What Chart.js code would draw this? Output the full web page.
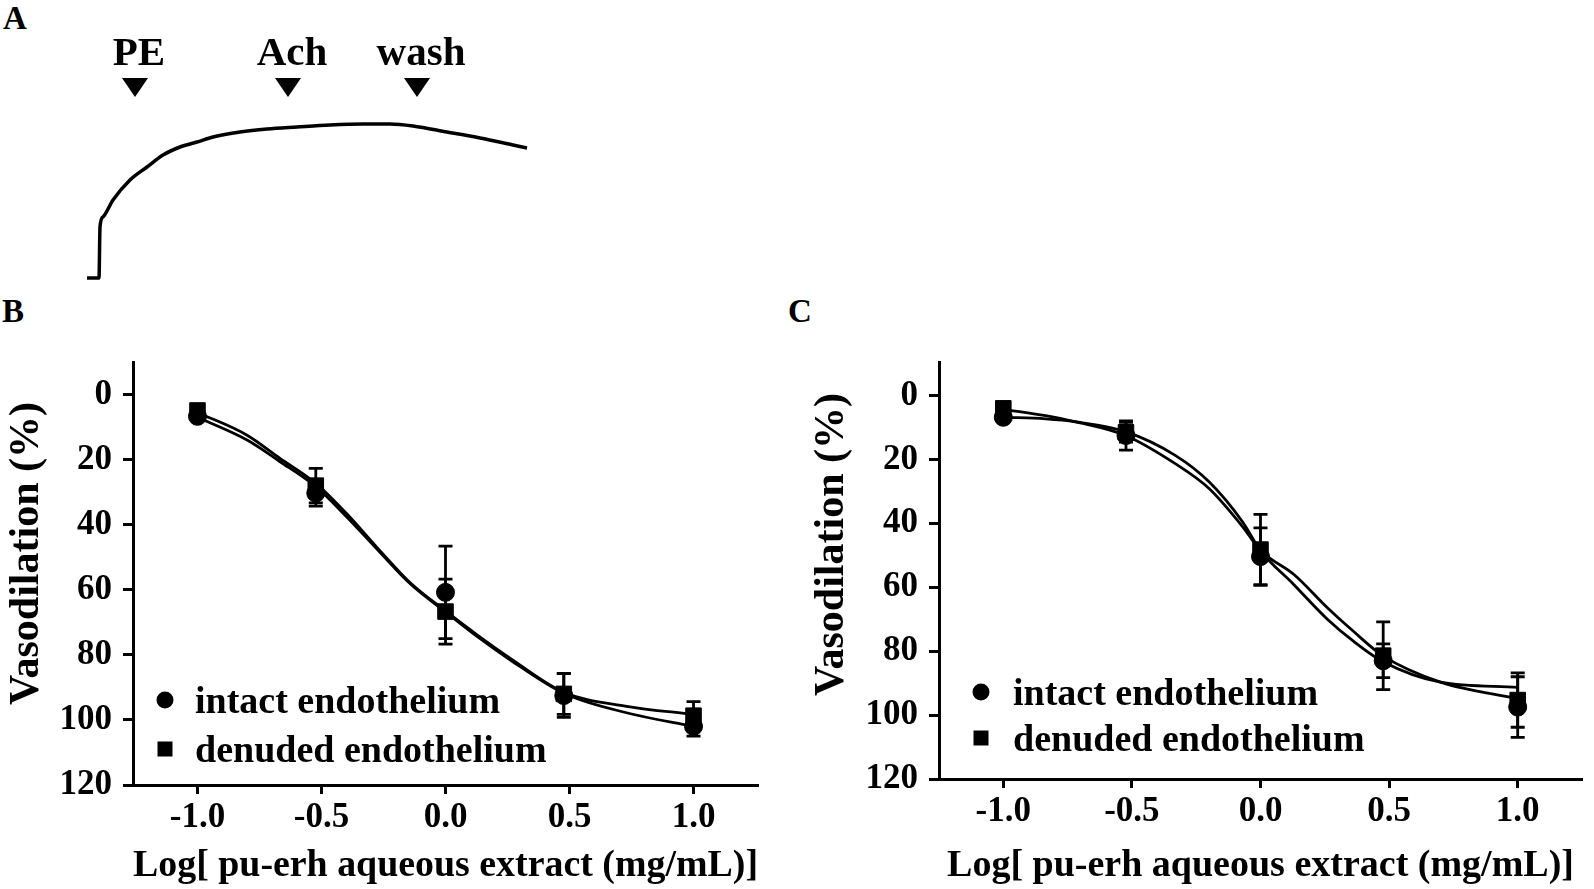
<!DOCTYPE html>
<html>
<head>
<meta charset="utf-8">
<script src="https://cdn.jsdelivr.net/npm/chart.js@4.4.1/dist/chart.umd.min.js"></script>
<style>
  html, body { margin: 0; padding: 0; background: #fff; }
  body { width: 1594px; height: 889px; position: relative; overflow: hidden; }
  canvas { position: absolute; }
  .panel { position: absolute; font: bold 33px/32px "Liberation Serif", "Times New Roman", serif; color: #000; }
</style>
</head>
<body>
<div class="panel" style="left:3px; top:2px;">A</div>
<div class="panel" style="left:2px; top:295px;">B</div>
<div class="panel" style="left:788px; top:295px;">C</div>

<canvas id="traceA" width="470" height="270" style="left:80px; top:20px;"></canvas>
<canvas id="chartB" width="770" height="559" style="left:0px; top:330px;"></canvas>
<canvas id="chartC" width="814" height="559" style="left:780px; top:330px;"></canvas>

<script>
// ---- panel A: tension trace (time in min, tension in g)
const traceTime = [0, 0.6, 0.65, 0.8, 1.3, 2.15, 3.0, 3.8, 4.65, 5.5, 6.3, 7.65, 9.0, 10.5, 12.15, 13.8, 15.15, 16.3, 18.0, 19.65, 21.3, 22.0];
const traceTension = [0, 0, 1.02, 1.22, 1.56, 1.96, 2.22, 2.46, 2.62, 2.72, 2.82, 2.92, 2.98, 3.02, 3.06, 3.08, 3.08, 3.04, 2.92, 2.8, 2.66, 2.6];
const eventNames = ['PE', 'Ach', 'wash'];
const eventTimes = [2.4, 10.05, 16.5];

// ---- panels B and C: concentration-response (log mg/mL vs % vasodilation)
const doseLog = [-1, -0.523, 0, 0.477, 1];
const xTickValues = [-1.0, -0.5, 0.0, 0.5, 1.0];
const yTickValues = [0, 20, 40, 60, 80, 100, 120];

const bIntactMean = [6.7, 30.3, 60.8, 92.5, 102];
const bIntactErr = [1, 4, 14.2, 6.7, 3];
const bDenudedMean = [4.9, 28, 66.7, 92, 98.7];
const bDenudedErr = [1, 5.3, 10, 6.3, 4.3];
const bCurveX = [-1, -0.8, -0.67, -0.52, -0.4, -0.27, -0.14, 0, 0.13, 0.26, 0.477, 0.73, 1];
const bIntactFit = [7, 14, 20.5, 28.5, 37.5, 48, 58.3, 66.8, 74.5, 81.5, 91.8, 97.8, 102];
const bDenudedFit = [5.5, 12.5, 19.5, 27.5, 36.5, 47.5, 58, 66.5, 74, 81, 91.5, 95.8, 98.3];

const cIntactMean = [6.8, 12.5, 50.4, 83, 97.5];
const cIntactErr = [1, 4.6, 9, 5.3, 9.5];
const cDenudedMean = [4, 11.5, 48.2, 81.4, 95.3];
const cDenudedErr = [1, 3.1, 11, 10.6, 8.5];
const cCurveX = [-1, -0.835, -0.72, -0.525, -0.33, -0.2, -0.07, 0, 0.13, 0.26, 0.36, 0.475, 0.7, 1];
const cIntactFit = [6.8, 7.3, 8.2, 11.3, 18.8, 27, 39.5, 48.5, 59.2, 70, 76.8, 83.2, 89.7, 91.3];
const cDenudedFit = [4.3, 6.3, 8.2, 12.5, 21.4, 29.1, 41, 48.5, 56, 66.4, 73.7, 81.4, 89.7, 94.9];

const serif = '"Liberation Serif", "Times New Roman", serif';
Chart.defaults.font.family = serif;
Chart.defaults.color = '#000';

const pts = (xs, ys) => xs.map((x, i) => ({ x: x, y: ys[i] }));

// arrows + drug labels above the trace
const eventMarkers = {
  id: 'eventMarkers',
  afterDatasetsDraw(chart, args, opts) {
    const { ctx, scales: { x, y } } = chart;
    const tipY = y.getPixelForValue(opts.level);
    ctx.save();
    ctx.fillStyle = '#000';
    ctx.font = 'bold 41px ' + serif;
    ctx.textAlign = 'center';
    opts.times.forEach((t, i) => {
      const px = x.getPixelForValue(t);
      ctx.beginPath();
      ctx.moveTo(px - 13, tipY - 19);
      ctx.lineTo(px + 13, tipY - 19);
      ctx.lineTo(px, tipY);
      ctx.closePath();
      ctx.fill();
      ctx.fillText(opts.names[i], px + 4, tipY - 32);
    });
    ctx.restore();
  }
};

// mean +/- SEM bars
const errorBars = {
  id: 'errorBars',
  afterDatasetsDraw(chart) {
    const { ctx, scales: { x, y } } = chart;
    chart.data.datasets.forEach(ds => {
      if (!ds.errors) return;
      ctx.save();
      ctx.strokeStyle = '#000';
      ctx.lineWidth = 2.8;
      ds.data.forEach((p, j) => {
        const px = x.getPixelForValue(p.x);
        const top = y.getPixelForValue(p.y - ds.errors[j]);
        const bot = y.getPixelForValue(p.y + ds.errors[j]);
        ctx.beginPath();
        ctx.moveTo(px, top); ctx.lineTo(px, bot);
        ctx.moveTo(px - 7, top); ctx.lineTo(px + 7, top);
        ctx.moveTo(px - 7, bot); ctx.lineTo(px + 7, bot);
        ctx.stroke();
      });
      ctx.restore();
    });
  }
};

// legend drawn inside the plot, bottom left
const innerLegend = {
  id: 'innerLegend',
  afterDraw(chart, args, opts) {
    const { ctx, chartArea } = chart;
    ctx.save();
    ctx.fillStyle = '#000';
    ctx.font = 'bold 38px ' + serif;
    ctx.textAlign = 'left';
    chart.data.datasets.filter(ds => ds.errors).forEach((ds, i) => {
      const mx = chartArea.left + opts.markerX;
      const my = chartArea.bottom - opts.rows[i];
      ctx.beginPath();
      if (ds.pointStyle === 'rect') {
        ctx.rect(mx - 7.5, my - 7.5, 15, 15);
      } else {
        ctx.arc(mx, my, 8.5, 0, Math.PI * 2);
      }
      ctx.fill();
      ctx.fillText(ds.label, chartArea.left + opts.textX, my + 13);
    });
    ctx.restore();
  }
};

// y axis title, sits a bit above the plot centre as in the figure
const yTitle = {
  id: 'yTitle',
  afterDraw(chart, args, opts) {
    const { ctx, chartArea } = chart;
    ctx.save();
    ctx.translate(opts.x, (chartArea.top + chartArea.bottom) / 2 - opts.lift);
    ctx.rotate(-Math.PI / 2);
    ctx.fillStyle = '#000';
    ctx.font = 'bold 42px ' + serif;
    ctx.textAlign = 'center';
    ctx.textBaseline = 'alphabetic';
    ctx.fillText(opts.text, 0, 0);
    ctx.restore();
  }
};

new Chart(document.getElementById('traceA'), {
  type: 'scatter',
  data: {
    datasets: [{
      label: 'tension',
      data: pts(traceTime, traceTension),
      showLine: true,
      borderColor: '#000',
      borderWidth: 3.5,
      pointRadius: 0,
      cubicInterpolationMode: 'monotone'
    }]
  },
  options: {
    responsive: false,
    animation: false,
    layout: { padding: 0 },
    scales: {
      x: { type: 'linear', display: false, min: -0.35, max: 23.15 },
      y: { type: 'linear', display: false, min: -0.24, max: 5.16 }
    },
    plugins: {
      legend: { display: false },
      tooltip: { enabled: false },
      eventMarkers: { times: eventTimes, names: eventNames, level: 3.62 }
    }
  },
  plugins: [eventMarkers]
});

function doseChart(id, cfg) {
  const tickFont = { family: serif, size: 35, weight: 'bold' };
  const grid = { display: true, drawOnChartArea: false, drawTicks: true, tickLength: 10, tickWidth: 3, tickColor: '#000' };
  return new Chart(document.getElementById(id), {
    type: 'scatter',
    data: {
      datasets: [
        { label: 'intact endothelium', data: pts(doseLog, cfg.intact), errors: cfg.intactErr,
          pointStyle: 'circle', pointRadius: 9, backgroundColor: '#000', borderColor: '#000', order: 0 },
        { label: 'denuded endothelium', data: pts(doseLog, cfg.denuded), errors: cfg.denudedErr,
          pointStyle: 'rect', pointRadius: 11, backgroundColor: '#000', borderColor: '#000', order: 0 },
        { label: 'intact fit', data: pts(cfg.curveX, cfg.intactFit), showLine: true, pointRadius: 0,
          borderColor: '#000', borderWidth: 2.8, cubicInterpolationMode: 'monotone', order: 1 },
        { label: 'denuded fit', data: pts(cfg.curveX, cfg.denudedFit), showLine: true, pointRadius: 0,
          borderColor: '#000', borderWidth: 2.8, cubicInterpolationMode: 'monotone', order: 1 }
      ]
    },
    options: {
      responsive: false,
      animation: false,
      layout: { padding: cfg.padding },
      scales: {
        x: {
          type: 'linear', min: cfg.xMin, max: cfg.xMax,
          afterBuildTicks: s => { s.ticks = xTickValues.map(v => ({ value: v })); },
          afterFit: s => { s.height = cfg.xHeight; },
          ticks: { font: tickFont, color: '#000', padding: 3, maxRotation: 0, autoSkip: false,
                   callback: v => v.toFixed(1) },
          grid: Object.assign({}, grid, { tickLength: 9 }),
          border: { display: true, color: '#000', width: 3 },
          title: { display: true, text: 'Log[ pu-erh aqueous extract (mg/mL)]', color: '#000',
                   font: { family: serif, size: 38, weight: 'bold' }, padding: { top: 0, bottom: 0 } }
        },
        y: {
          type: 'linear', reverse: true, min: cfg.yMin, max: 120,
          afterBuildTicks: s => { s.ticks = yTickValues.map(v => ({ value: v })); },
          afterFit: s => { s.width = cfg.yWidth; },
          ticks: { font: tickFont, color: '#000', padding: 11 },
          grid: grid,
          border: { display: true, color: '#000', width: 3 },
          title: { display: false }
        }
      },
      plugins: {
        legend: { display: false },
        tooltip: { enabled: false },
        innerLegend: cfg.legend,
        yTitle: { text: 'Vasodilation (%)', x: cfg.titleX, lift: cfg.titleLift }
      }
    },
    plugins: [errorBars, innerLegend, yTitle]
  });
}

doseChart('chartB', {
  intact: bIntactMean, intactErr: bIntactErr, denuded: bDenudedMean, denudedErr: bDenudedErr,
  curveX: bCurveX, intactFit: bIntactFit, denudedFit: bDenudedFit,
  xMin: -1.26, xMax: 1.26, yMin: -10,
  padding: { left: 0, top: 8, right: 8, bottom: 0 }, yWidth: 133, xHeight: 104,
  legend: { markerX: 32, textX: 62, rows: [85, 36] },
  titleX: 38, titleLift: 20
});

doseChart('chartC', {
  intact: cIntactMean, intactErr: cIntactErr, denuded: cDenudedMean, denudedErr: cDenudedErr,
  curveX: cCurveX, intactFit: cIntactFit, denudedFit: cDenudedFit,
  xMin: -1.25, xMax: 1.25, yMin: -10.5,
  padding: { left: 25, top: 29, right: 2, bottom: 0 }, yWidth: 134, xHeight: 110,
  legend: { markerX: 42, textX: 74, rows: [87, 41] },
  titleX: 63, titleLift: 26
});
</script>
</body>
</html>
